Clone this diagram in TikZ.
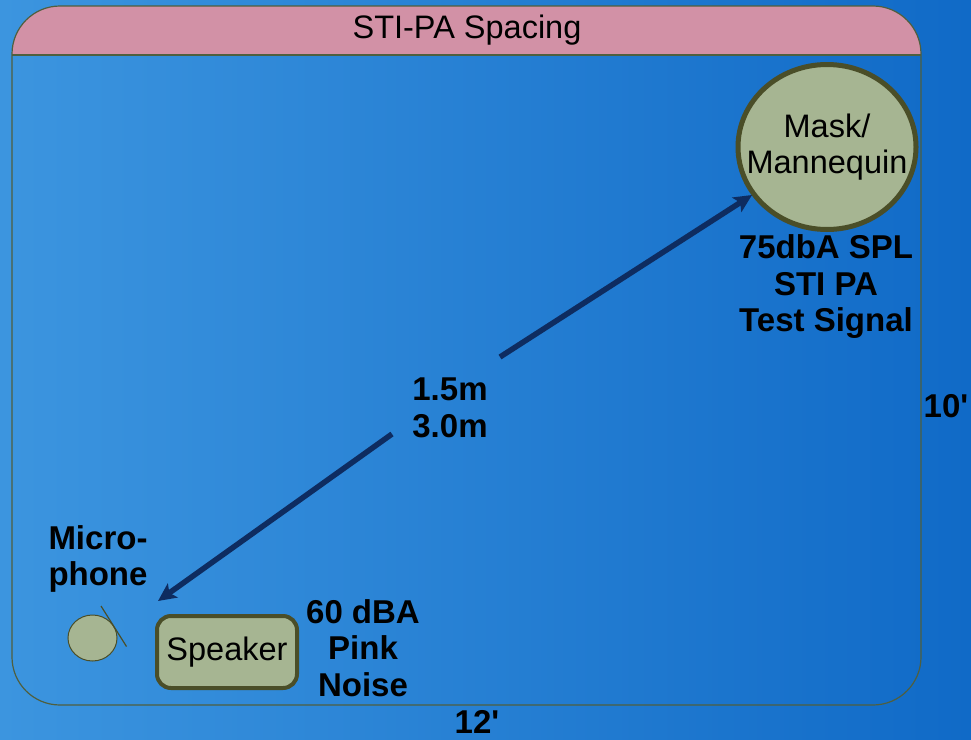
\documentclass[tikz,border=0pt]{standalone}
\usepackage{fontspec}
\setmainfont{Liberation Sans}[Ligatures=TeXOff]
\usetikzlibrary{shapes.geometric,arrows.meta}
\definecolor{bgleft}{HTML}{3C95DF}
\definecolor{bgright}{HTML}{106AC7}
\definecolor{headpink}{HTML}{D291A6}
\definecolor{framecol}{HTML}{4F5F3F}
\definecolor{olivefill}{HTML}{A6B592}
\definecolor{olivedark}{HTML}{4A4E28}
\definecolor{navy}{HTML}{0E2C60}
\tikzset{
  regtext/.style={font=\fontsize{32.5}{36}\selectfont, text=black, align=center, inner sep=0pt},
  boldtext/.style={font=\fontsize{33}{36.5}\selectfont\bfseries, text=black, align=center, inner sep=0pt},
  framebox/.style={draw=framecol, line width=1.2pt},
  olivebox/.style={draw=olivedark, fill=olivefill},
  distarrow/.style={draw=navy, line width=5.5pt, -{Stealth[length=18pt,width=17pt,inset=4pt]}},
}
\begin{document}
\begin{tikzpicture}[x=1pt,y=-1pt]
\useasboundingbox (0,0) rectangle (971,739);
\shade[left color=bgleft, right color=bgright] (0,0) rectangle (971,739);
% frame with header
\begin{scope}
  \clip[rounded corners=48] (12,6) rectangle (921,705);
  \fill[headpink] (12,6) rectangle (921,55);
\end{scope}
\node[framebox, rounded corners=48, minimum width=909pt, minimum height=699pt, inner sep=0pt] (frame) at (466.5,355.5) {};
\coordinate (hl) at (12,55);
\coordinate (hr) at (921,55);
\draw[framebox] (hl) -- (hr);
\node[regtext] (title) at (467,30) {STI-PA Spacing};
% mask
\node[olivebox, ellipse, line width=5pt, minimum width=178pt, minimum height=165pt, inner sep=0pt] (mask) at (827,147) {};
\node[regtext] (masktext) at (mask.center) {Mask/\\Mannequin};
\node[boldtext] (signal) at (826,287) {75dbA SPL\\STI PA\\Test Signal};
% speaker
\node[olivebox, line width=4pt, rounded corners=14, minimum width=140pt, minimum height=72pt, regtext] (speaker) at (227,652) {Speaker};
\node[boldtext] (noise) at (363,648) {60 dBA\\Pink\\Noise};
% microphone
\node[olivebox, ellipse, line width=1pt, minimum width=49pt, minimum height=46pt, inner sep=0pt] (mic) at (92.5,638) {};
\coordinate (micA) at (101,606);
\coordinate (micB) at (126.5,646.5);
\draw[draw=olivedark, line width=1.2pt] (micA) -- (micB);
\node[boldtext] (miclabel) at (98,559) {Micro-\\phone};
% distance
\node[boldtext] (dist) at (450,408) {1.5m\\3.0m};
\coordinate (lowstart) at (392,434);
\coordinate (lowend) at (158,601);
\coordinate (upstart) at (500,357);
\coordinate (upend) at (752,195);
\draw[distarrow] (lowstart) -- (lowend);
\draw[distarrow] (upstart) -- (upend);
% dimensions
\node[boldtext] (ten) at (946,406) {10'};
\node[boldtext] (twelve) at (477,722) {12'};
\end{tikzpicture}
\end{document}
